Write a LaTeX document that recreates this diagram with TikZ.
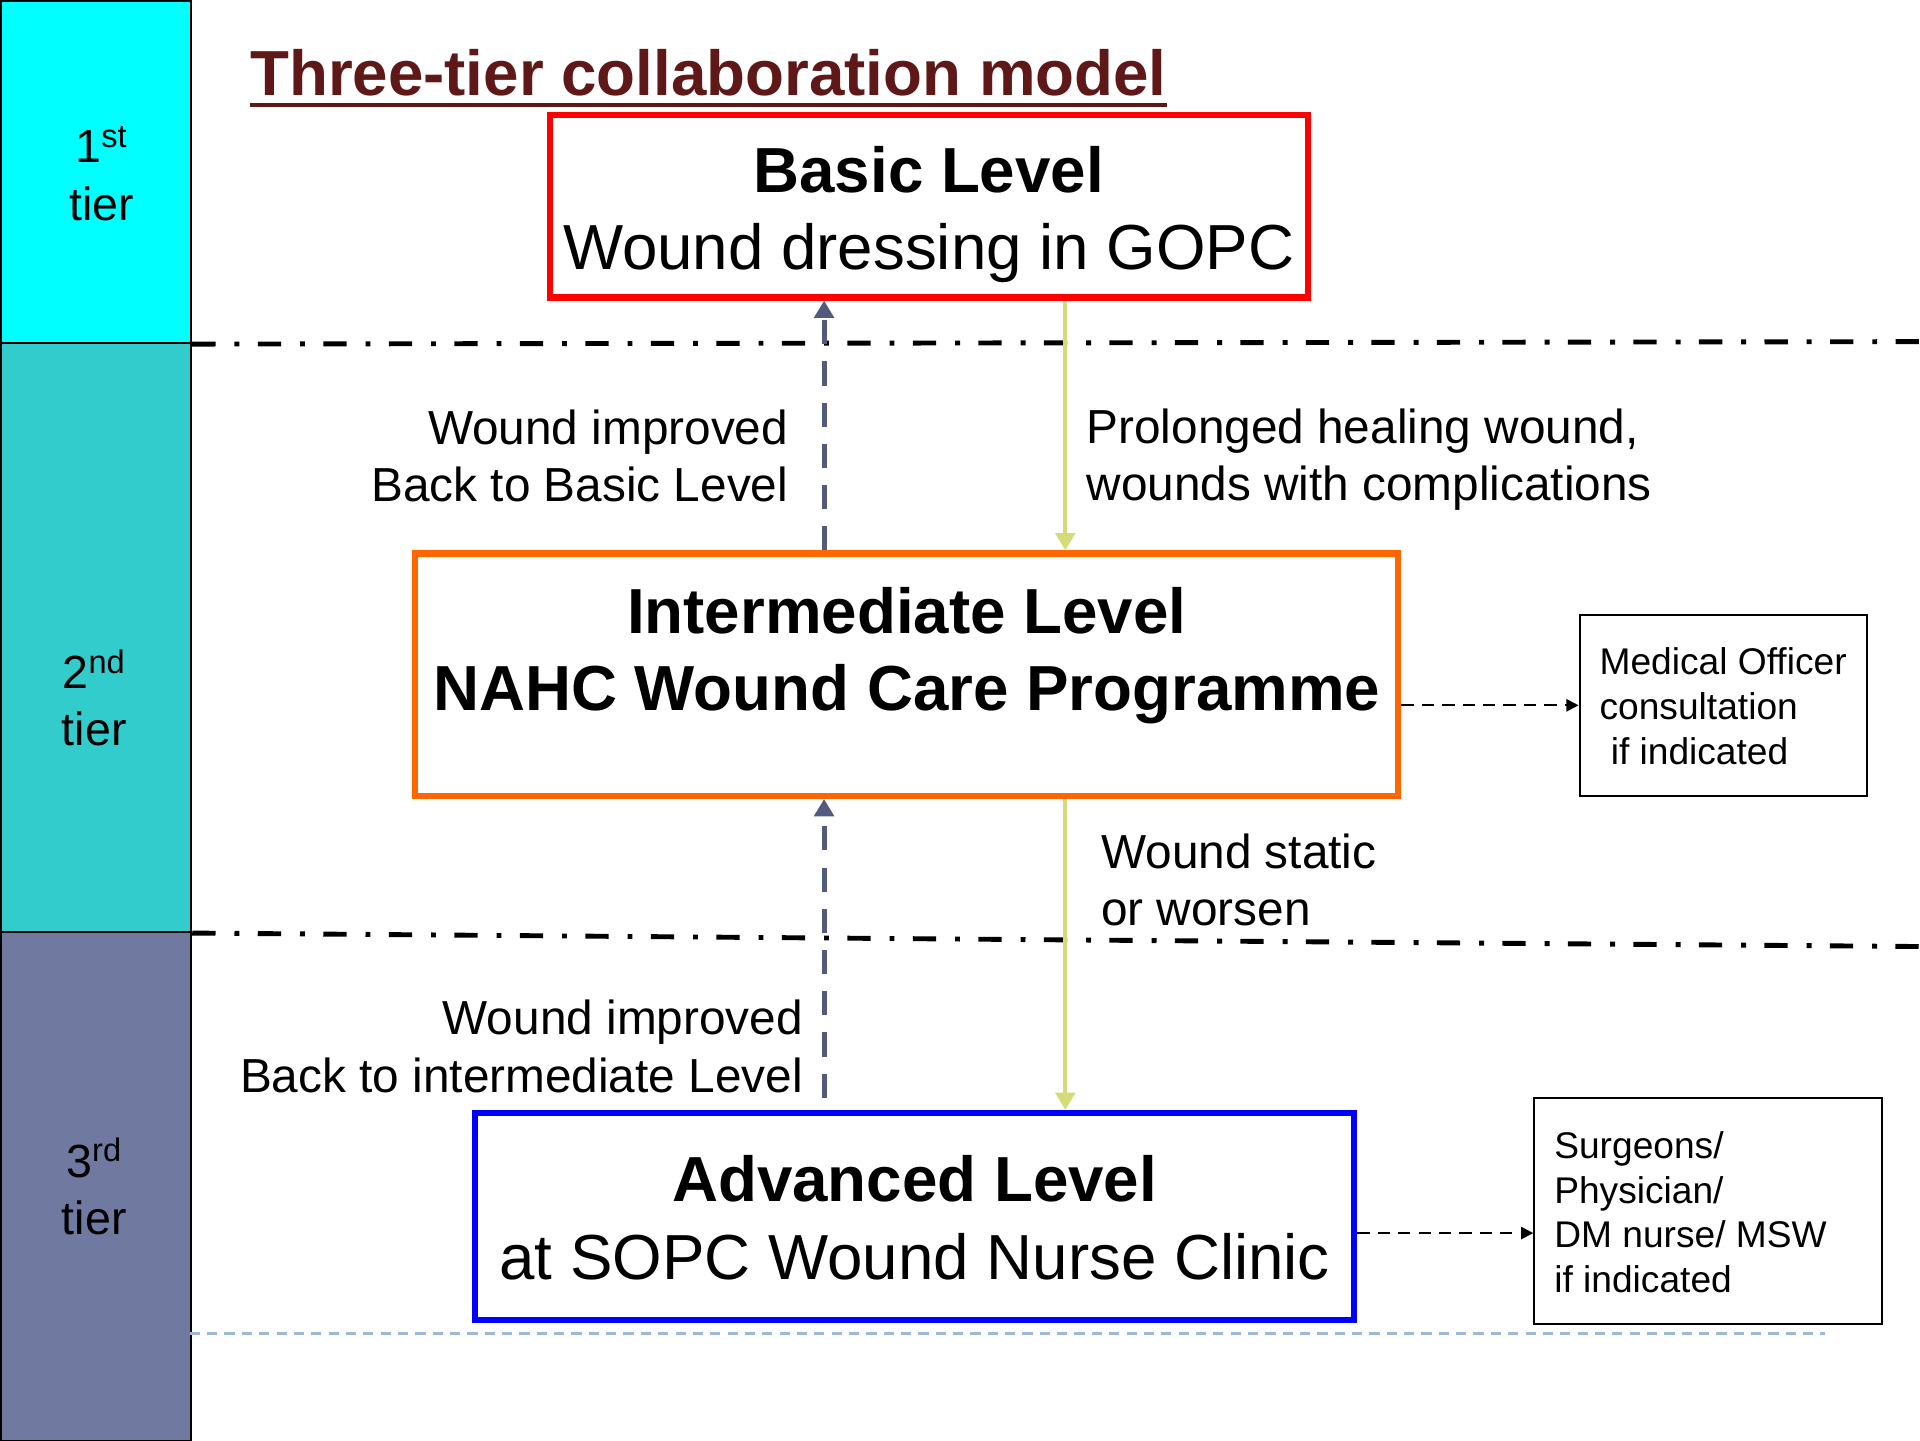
\documentclass[tikz,border=0pt]{standalone}
\usepackage{fontspec}
\setmainfont{Liberation Sans}
\usetikzlibrary{arrows.meta,calc}
\definecolor{tierA}{HTML}{00FFFF}
\definecolor{tierB}{HTML}{33CCCC}
\definecolor{tierC}{HTML}{7079A0}
\definecolor{titlered}{HTML}{5F1818}
\definecolor{orng}{HTML}{FF6600}
\definecolor{slate}{HTML}{525A7D}
\definecolor{limeg}{HTML}{D4DC78}
\definecolor{paleblue}{HTML}{9FB8D6}
\begin{document}
\begin{tikzpicture}[x=0.6pt,y=-0.6pt,
  tierbox/.style={draw=black,line width=1.2pt,anchor=north west,inner sep=0,minimum width=93pt},
  tiertext/.style={font=\fontsize{22.8pt}{28.2pt}\selectfont,align=center,inner sep=0},
  lvlbox/.style={draw=#1,line width=3pt,fill=white,inner sep=0},
  lvltext/.style={font=\fontsize{31.2pt}{37.8pt}\selectfont,align=center,inner sep=0},
  lbl/.style={font=\fontsize{23.4pt}{28.2pt}\selectfont,inner sep=0},
  smallbox/.style={draw=black,line width=1pt,inner sep=0},
  smalltext/.style={font=\fontsize{18.2pt}{22pt}\selectfont,align=left,inner sep=0,anchor=west},
  divider/.style={line width=2.4pt,dash pattern=on 11.4pt off 9.3pt on 2.4pt off 9pt},
  backarrow/.style={draw=slate,line width=2.4pt,dash pattern=on 11.8pt off 8.4pt,-{Triangle[width=9.5pt,length=8.5pt]}},
  fwdarrow/.style={draw=limeg,line width=2pt,-{Triangle[width=9.5pt,length=8.5pt]}},
  consult/.style={line width=1pt,dash pattern=on 6pt off 4pt,-{Triangle[width=6pt,length=6pt]}},
  bottomdash/.style={draw=paleblue,line width=1pt,dash pattern=on 5pt off 3.5pt},
]
\useasboundingbox (0,0) rectangle (1568,1176);
\fill[white] (0,0) rectangle (1568,1176);

% tier bar
\node[tierbox,fill=tierA,minimum height=167.4pt] (t1) at (0,0) {};
\node[tierbox,fill=tierB,minimum height=288.6pt] (t2) at (0,279) {};
\node[tierbox,fill=tierC,minimum height=249.6pt] (t3) at (0,760) {};
\node[tiertext] (t1text) at (83,141.5) {1\textsuperscript{st}\\tier};
\node[tiertext] (t2text) at (77,570) {2\textsuperscript{nd}\\tier};
\node[tiertext] (t3text) at (77,969) {3\textsuperscript{rd}\\tier};

% dividers
\coordinate (d1R) at (1568,279);
\coordinate (d2R) at (1568,773);
\draw[divider] (t1.south east) -- (d1R);
\draw[divider] (t2.south east) -- (d2R);

% bottom dashed line
\coordinate (bdL) at (155,1089);
\coordinate (bdR) at (1490,1089);
\draw[bottomdash] (bdL) -- (bdR);

% title
\node[font=\bfseries\fontsize{31.2pt}{37pt}\selectfont,text=titlered,anchor=base west,inner sep=0] (title) at (204,78) {Three-tier collaboration model};
\draw[titlered,line width=1.8pt] ($(title.base west)+(0,8)$) -- ($(title.base east)+(0,8)$);

% level boxes
\node[lvlbox=red,minimum width=371.4pt,minimum height=89.4pt] (basic) at (758.5,168.5) {};
\node[lvltext] (basictext) at (758.5,175) {\textbf{Basic Level}\\Wound dressing in GOPC};
\node[lvlbox=orng,minimum width=481.8pt,minimum height=118.8pt] (inter) at (740.5,551) {};
\node[lvltext] (intertext) at (740.5,535.5) {\textbf{Intermediate Level}\\\textbf{NAHC Wound Care Programme}};
\node[lvlbox=blue,minimum width=430.8pt,minimum height=101.4pt] (adv) at (747,993.5) {};
\node[lvltext] (advtext) at (747,994.5) {\textbf{Advanced Level}\\at SOPC Wound Nurse Clinic};

% vertical arrows
\coordinate (upx) at (673,0);
\coordinate (dnx) at (870,0);
\draw[backarrow] (inter.north -| upx) -- (basic.south -| upx);
\draw[fwdarrow] (basic.south -| dnx) -- (inter.north -| dnx);
\draw[backarrow,shorten <=6pt] (adv.north -| upx) -- (inter.south -| upx);
\draw[fwdarrow] (inter.south -| dnx) -- (adv.north -| dnx);

% labels
\node[lbl,align=right,anchor=east] (l1) at (644,372.5) {Wound improved\\Back to Basic Level};
\node[lbl,align=left,anchor=west] (l2) at (887,375.5) {Prolonged healing wound,\\wounds with complications};
\node[lbl,align=left,anchor=west] (l3) at (899,718.5) {Wound static\\or worsen};
\node[lbl,align=right,anchor=east] (l4) at (656,854.5) {Wound improved\\Back to intermediate Level};

% side boxes
\node[smallbox,minimum width=141pt,minimum height=88.8pt] (med) at (1407.5,576) {};
\node[smalltext] (medtext) at (1306,577) {Medical Officer\\consultation\\\hspace*{0.3em}if indicated};
\node[smallbox,minimum width=170.4pt,minimum height=110.4pt] (surg) at (1395,989) {};
\node[smalltext] (surgtext) at (1269,990) {Surgeons/\\Physician/\\DM nurse/ MSW\\if indicated};

\draw[consult] (inter.east |- med.west) -- (med.west);
\coordinate (sy) at (0,1007);
\draw[consult] (adv.east |- sy) -- (surg.west |- sy);
\end{tikzpicture}
\end{document}
